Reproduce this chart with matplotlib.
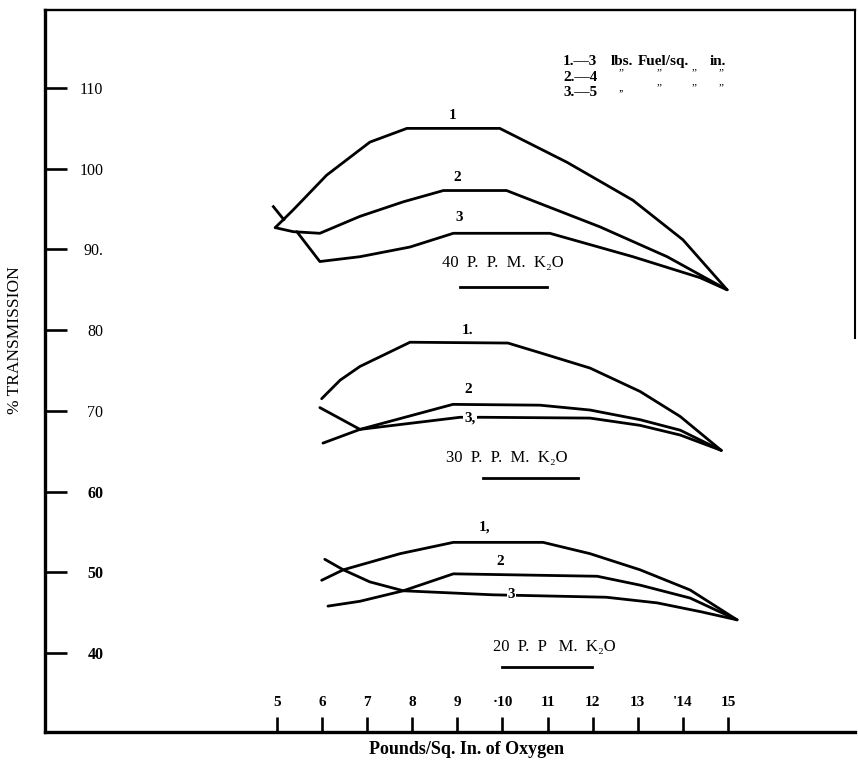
import matplotlib
matplotlib.use("Agg")
import matplotlib.pyplot as plt

plt.rcParams["font.family"] = ["Liberation Serif", "DejaVu Serif"]

# oxygen pressure (lbs/sq. in.) vs % transmission, three fuel pressures per K2O level
# 40 P.P.M. K2O
c1_40_x = [4.96, 5.36, 6.10, 7.06, 7.88, 9.94, 11.43, 12.89, 14.00, 14.98]
c1_40_y = [92.7, 94.9, 99.2, 103.3, 105.0, 105.0, 100.8, 96.1, 91.2, 85.0]
c2_40_x = [4.96, 5.36, 5.95, 6.84, 7.80, 8.69, 10.09, 12.16, 13.65, 14.98]
c2_40_y = [92.7, 92.2, 92.0, 94.1, 95.9, 97.3, 97.3, 92.8, 89.1, 85.0]
c3_40_x = [5.44, 5.95, 6.84, 7.95, 8.91, 11.05, 12.89, 14.38, 14.98]
c3_40_y = [92.2, 88.5, 89.1, 90.3, 92.0, 92.0, 89.1, 86.5, 85.0]

# 30 P.P.M. K2O
c1_30_x = [5.99, 6.40, 6.84, 7.95, 10.12, 10.83, 11.94, 13.05, 13.94, 14.85]
c1_30_y = [71.5, 73.8, 75.5, 78.5, 78.4, 77.2, 75.3, 72.4, 69.3, 65.1]
c2_30_x = [6.02, 6.84, 8.90, 10.83, 11.94, 13.05, 13.94, 14.85]
c2_30_y = [66.0, 67.7, 70.8, 70.7, 70.1, 68.9, 67.6, 65.1]
c3_30_x = [5.95, 6.84, 9.06, 9.56, 11.94, 13.05, 13.94, 14.85]
c3_30_y = [70.4, 67.7, 69.2, 69.2, 69.1, 68.2, 67.0, 65.1]

# 20 P.P.M. K2O
c1_20_x = [5.99, 6.47, 7.73, 8.91, 10.90, 11.94, 13.05, 14.16, 15.20]
c1_20_y = [49.0, 50.3, 52.3, 53.7, 53.7, 52.3, 50.3, 47.8, 44.1]
c2_20_x = [6.13, 6.84, 7.80, 8.91, 12.10, 13.05, 14.16, 15.20]
c2_20_y = [45.8, 46.4, 47.7, 49.8, 49.5, 48.4, 46.8, 44.1]
c3_20_x = [6.06, 6.47, 7.06, 7.80, 9.79, 12.30, 13.43, 14.40, 15.20]
c3_20_y = [51.6, 50.3, 48.8, 47.7, 47.2, 46.9, 46.2, 45.1, 44.1]

# small hand mark across curve 1 at the 40 ppm start
check_x = [4.92, 5.15]
check_y = [95.3, 93.7]

x_ticks = [5, 6, 7, 8, 9, 10, 11, 12, 13, 14, 15]
x_tick_labels = ["5", "6", "7", "8", "9", "·10", "11", "12", "13", "'14", "15"]
y_ticks = [40, 50, 60, 70, 80, 90, 100, 110]
y_tick_labels = ["40", "50", "60", "70", "80", "90.", "100", "110"]

# (text, x, y) for the curve numbers
curve_labels = [
    ("1", 8.90, 106.6), ("2", 9.00, 98.9), ("3", 9.05, 93.9),
    ("1.", 9.23, 79.9), ("2", 9.23, 72.7), ("3,", 9.28, 69.1),
    ("1,", 9.61, 55.6), ("2", 9.94, 51.3), ("3", 10.20, 47.2),
]
# (text, x centre, y, underline x0, underline x1, underline y)
group_labels = [
    ("40  P.  P.  M.  K\u2082O", 10.00, 88.3, 9.06, 10.99, 85.3),
    ("30  P.  P.  M.  K\u2082O", 10.10, 64.2, 9.57, 11.67, 61.7),
    ("20  P.  P   M.  K\u2082O", 11.14, 40.7, 10.00, 11.98, 38.3),
]

# fuel pressure key: lead column, then unit columns (first row words, later rows dittos)
key_lead = ["1.\u20143", "2.\u20144", "3.\u20145"]
key_words = ["lbs.", "Fuel/sq.", "in."]
key_ditto = [["\u201d", "\u201d", "\u201d", "\u201d"], [",,", "\u201d", "\u201d", "\u201d"]]

fig = plt.figure(figsize=(8.58, 7.62), dpi=100)
ax = fig.add_axes([45 / 858, 30 / 762, 810 / 858, 722 / 762])
ax.set_xlim(-0.144, 17.816)
ax.set_ylim(30.2, 119.67)

lw = 2.0
for xs, ys in [(c1_40_x, c1_40_y), (c2_40_x, c2_40_y), (c3_40_x, c3_40_y),
               (c1_30_x, c1_30_y), (c2_30_x, c2_30_y), (c3_30_x, c3_30_y),
               (c1_20_x, c1_20_y), (c2_20_x, c2_20_y), (c3_20_x, c3_20_y)]:
    ax.plot(xs, ys, color="black", linewidth=lw, solid_joinstyle="round",
            solid_capstyle="round", zorder=2)
ax.plot(check_x, check_y, color="black", linewidth=2.0, zorder=2)

for txt, x, y in curve_labels:
    ax.text(x, y, txt, ha="center", va="center", fontsize=11, fontweight="bold",
            zorder=3, bbox=dict(facecolor="white", edgecolor="none", pad=0.8))

for txt, x, y, u0, u1, uy in group_labels:
    ax.text(x, y, txt, ha="center", va="center", fontsize=12)
    ax.plot([u0, u1], [uy, uy], color="black", linewidth=2.0)

# key, top right (positions in pixels, baselines)
key_fs = 11
key_rows_y = [65, 81, 96]
for lead, yp in zip(key_lead, key_rows_y):
    fig.text(563 / 858, 1 - yp / 762, lead, fontsize=key_fs, fontweight="bold",
             va="baseline")
for word, xp in zip(key_words, [611, 638, 710]):
    fig.text(xp / 858, 1 - key_rows_y[0] / 762, word, fontsize=key_fs,
             fontweight="bold", va="baseline")
for dittos, yp in zip(key_ditto, key_rows_y[1:]):
    for mark, xp in zip(dittos, [621, 659, 694, 721]):
        fig.text(xp / 858, 1 - (yp - 8) / 762, mark, fontsize=8, ha="center",
                 va="center")

# frame
for side, w in [("left", 2.4), ("bottom", 2.4), ("top", 1.7), ("right", 1.5)]:
    ax.spines[side].set_linewidth(w)
ax.spines["right"].set_bounds(79, 119.67)

ax.set_xticks(x_ticks)
ax.set_xticklabels(x_tick_labels, fontweight="bold", fontsize=11)
ax.set_yticks(y_ticks)
ax.set_yticklabels(y_tick_labels, fontsize=11.5)
for lab in ax.get_yticklabels()[:3]:
    lab.set_fontweight("bold")
ax.tick_params(axis="x", direction="in", length=11, width=1.9, pad=-26)
ax.tick_params(axis="y", direction="in", length=16, width=1.9, pad=-42)

fig.text(15 / 858, 1 - 340 / 762, "% TRANSMISSION", rotation=90, ha="center",
         va="center", fontsize=12.5)
fig.text(467 / 858, 1 - 750 / 762, "Pounds/Sq. In. of Oxygen", ha="center",
         va="center", fontsize=13, fontweight="bold")

fig.savefig("out.png", dpi=100)
